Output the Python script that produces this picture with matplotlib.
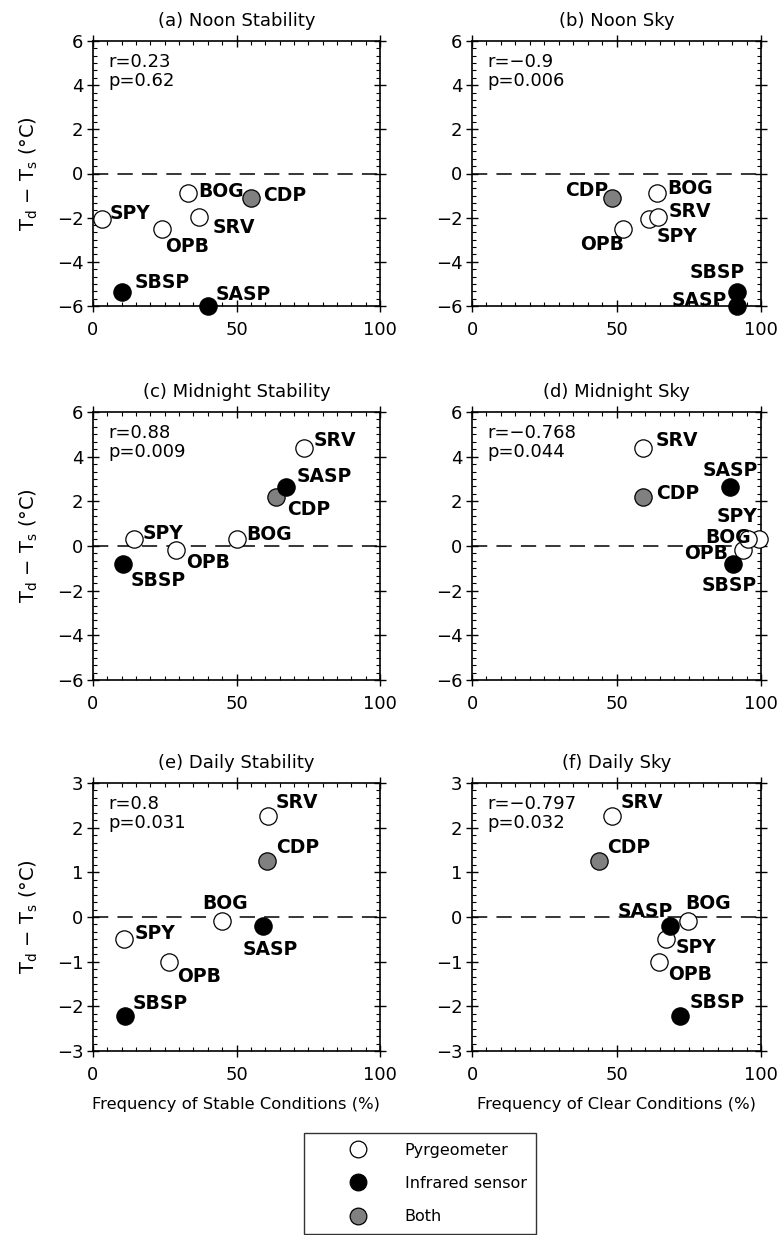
import matplotlib
matplotlib.use("Agg")
import matplotlib.pyplot as plt
from matplotlib.ticker import MultipleLocator
from matplotlib.lines import Line2D

plt.rcParams["font.family"] = ["DejaVu Sans"]
plt.rcParams["mathtext.fontset"] = "dejavusans"

# ----------------------------
# Data
# ----------------------------

SITES = ["SPY", "OPB", "BOG", "SRV", "CDP", "SBSP", "SASP"]
KINDS = ["pyr", "pyr", "pyr", "pyr", "both", "ir", "ir"]

# T_d - T_s (deg C) per period
noon_dt = [-2.05, -2.5, -0.9, -1.95, -1.1, -5.35, -6.0]
midnight_dt = [0.31, -0.16, 0.31, 4.38, 2.2, -0.82, 2.64]
daily_dt = [-0.49, -1.0, -0.1, 2.27, 1.26, -2.21, -0.21]

# frequency of stable / clear conditions (%)
noon_stab_x = [3.0, 24.2, 33.2, 36.9, 54.9, 10.0, 40.2]
noon_sky_x = [61.3, 52.1, 63.9, 64.2, 48.5, 91.8, 91.8]
midnight_stab_x = [14.3, 28.8, 50.3, 73.6, 63.8, 10.6, 67.1]
midnight_sky_x = [99.3, 93.9, 95.6, 59.1, 59.1, 90.2, 89.2]
daily_stab_x = [10.9, 26.5, 44.8, 60.9, 60.5, 11.1, 59.4]
daily_sky_x = [67.0, 64.7, 74.7, 48.3, 43.8, 72.1, 68.4]

TITLES = ["(a) Noon Stability", "(b) Noon Sky",
          "(c) Midnight Stability", "(d) Midnight Sky",
          "(e) Daily Stability", "(f) Daily Sky"]
STATS = [("0.23", "0.62"), ("\u22120.9", "0.006"),
         ("0.88", "0.009"), ("\u22120.768", "0.044"),
         ("0.8", "0.031"), ("\u22120.797", "0.032")]

# label offsets in pixels: (dx, dy, ha)
LABEL_POS = [
    {"SPY": (8, 5, "left"), "OPB": (3, -18, "left"), "BOG": (10, 2, "left"),
     "SRV": (14, -11, "left"), "CDP": (13, 2, "left"), "SBSP": (13, 9, "left"),
     "SASP": (7, 12, "left")},
    {"SPY": (7, -18, "left"), "OPB": (2, -16, "right"), "BOG": (11, 5, "left"),
     "SRV": (11, 5, "left"), "CDP": (-4, 7, "right"), "SBSP": (7, 19, "right"),
     "SASP": (-10, 6, "right")},
    {"SPY": (9, 6, "left"), "OPB": (10, -13, "left"), "BOG": (9, 5, "left"),
     "SRV": (9, 8, "left"), "CDP": (11, -13, "left"), "SBSP": (7, -16, "left"),
     "SASP": (11, 11, "left")},
    {"SPY": (-2, 23, "right"), "OPB": (-15, -4, "right"), "BOG": (3, 2, "right"),
     "SRV": (13, 8, "left"), "CDP": (13, 3, "left"), "SBSP": (-3, -21, "center"),
     "SASP": (0, 17, "center")},
    {"SPY": (10, 5, "left"), "OPB": (8, -15, "left"), "BOG": (3, 18, "center"),
     "SRV": (8, 13, "left"), "CDP": (9, 13, "left"), "SBSP": (8, 12, "left"),
     "SASP": (7, -23, "center")},
    {"SPY": (10, -9, "left"), "OPB": (9, -13, "left"), "BOG": (-3, 18, "left"),
     "SRV": (9, 13, "left"), "CDP": (9, 13, "left"), "SBSP": (9, 13, "left"),
     "SASP": (3, 15, "right")},
]

COLORS = {"pyr": "white", "ir": "black", "both": "#808080"}
LEGEND_NAMES = {"pyr": "Pyrgeometer", "ir": "Infrared sensor", "both": "Both"}

W, H = 778, 1235
fig = plt.figure(figsize=(W / 100, H / 100), dpi=100)

cols = [(93, 287), (472, 289)]
rows = [(41, 265), (412, 268), (783, 268)]

panels = [
    (noon_stab_x, noon_dt), (noon_sky_x, noon_dt),
    (midnight_stab_x, midnight_dt), (midnight_sky_x, midnight_dt),
    (daily_stab_x, daily_dt), (daily_sky_x, daily_dt),
]

FS = 13

for i, (xs, ys) in enumerate(panels):
    r, c = divmod(i, 2)
    x0, w = cols[c]
    y0, h = rows[r]
    ax = fig.add_axes([x0 / W, 1 - (y0 + h) / H, w / W, h / H])

    ax.axhline(0, color="black", lw=1.1, dashes=(10, 6), zorder=1)
    for x, y, k in zip(xs, ys, KINDS):
        ax.scatter(x, y, s=155, facecolor=COLORS[k], edgecolor="black",
                   linewidth=0.9, zorder=3, clip_on=False)
    for x, y, name in zip(xs, ys, SITES):
        dx, dy, ha = LABEL_POS[i][name]
        ax.annotate(name, (x, y), xytext=(dx, dy), textcoords="offset pixels",
                    ha=ha, va="center", fontsize=13.5, fontweight="bold",
                    zorder=4)

    ax.set_xlim(0, 100)
    if r < 2:
        ax.set_ylim(-6, 6)
        ax.yaxis.set_major_locator(MultipleLocator(2))
        ax.yaxis.set_minor_locator(MultipleLocator(1 / 3))
    else:
        ax.set_ylim(-3, 3)
        ax.yaxis.set_major_locator(MultipleLocator(1))
        ax.yaxis.set_minor_locator(MultipleLocator(1 / 6))
    ax.xaxis.set_major_locator(MultipleLocator(50))
    ax.xaxis.set_minor_locator(MultipleLocator(5))
    ax.yaxis.set_major_formatter(plt.FuncFormatter(
        lambda v, p: f"{v:.0f}".replace("-", "\u2212")))

    ax.tick_params(which="major", direction="inout", length=8, width=1.0,
                   top=True, right=True, labelsize=FS, pad=3)
    ax.tick_params(which="minor", direction="in", length=3, width=0.8,
                   top=True, right=True)
    ax.tick_params(axis="x", which="major", pad=7)
    for sp in ax.spines.values():
        sp.set_linewidth(1.2)

    ax.set_title(TITLES[i], fontsize=FS, pad=11)
    rv, pv = STATS[i]
    ax.text(15 / w, 1 - 12 / h, f"r={rv}\np={pv}", transform=ax.transAxes,
            ha="left", va="top", fontsize=FS, linespacing=1.05)

    if c == 0:
        ax.set_ylabel(r"T$_\mathrm{d}$ $-$ T$_\mathrm{s}$ ($\degree$C)",
                      fontsize=FS + 1, labelpad=12)
    if r == 2:
        ax.set_xlabel("Frequency of Stable Conditions (%)" if c == 0
                      else "Frequency of Clear Conditions (%)",
                      fontsize=11.8, labelpad=9)

handles = [Line2D([], [], ls="none", marker="o", markersize=12,
                  markerfacecolor=COLORS[k], markeredgecolor="black",
                  markeredgewidth=0.9)
           for k in ["pyr", "ir", "both"]]
labels = [LEGEND_NAMES[k] for k in ["pyr", "ir", "both"]]
leg = fig.legend(handles, labels, loc="upper left",
                 bbox_to_anchor=(304 / W, 1 - 1133 / H), fontsize=11.5,
                 frameon=True, fancybox=False, edgecolor="black",
                 borderpad=0.6, handletextpad=0.2, labelspacing=1.15,
                 borderaxespad=0, handlelength=5.5)
leg.get_frame().set_linewidth(1.0)

fig.savefig("out.png", dpi=100)
